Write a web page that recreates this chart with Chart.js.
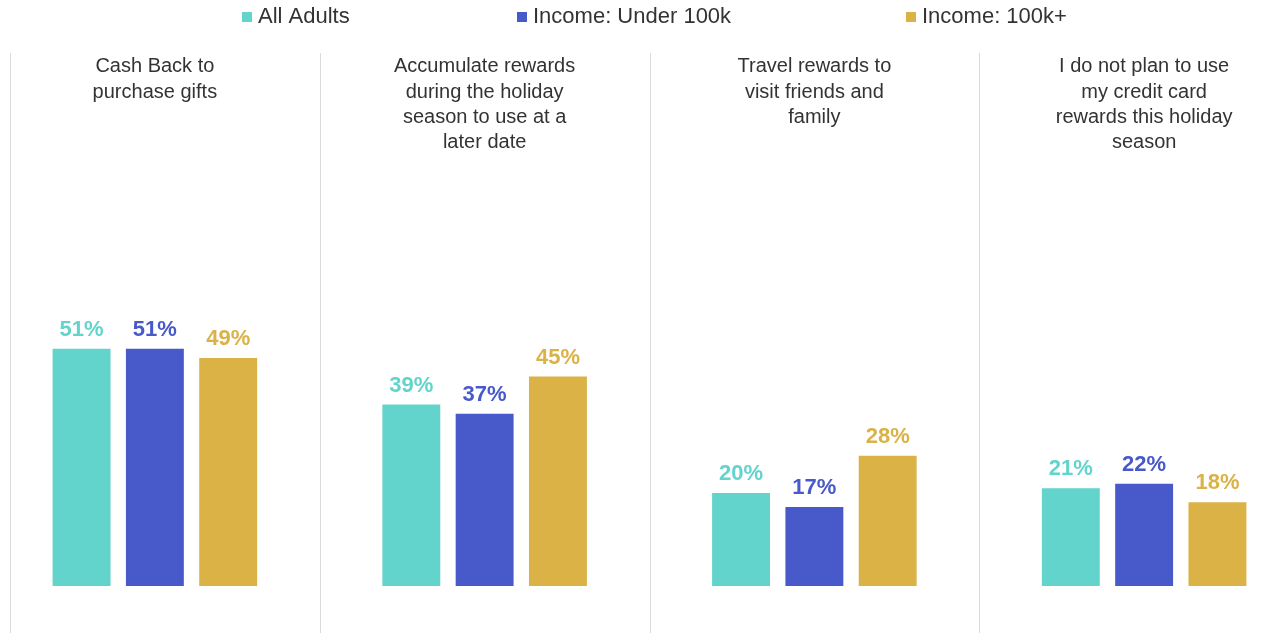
<!DOCTYPE html>
<html>
<head>
<meta charset="utf-8">
<title>Holiday rewards</title>
<script src="https://cdn.jsdelivr.net/npm/chart.js@4.4.0/dist/chart.umd.min.js"></script>
<style>
  html, body { margin: 0; padding: 0; background: #fff; overflow: hidden; }
  /* the first and last groups run a little past the window edges */
  #wrap { position: absolute; left: -10px; top: 0; width: 1319px; height: 633px; }
</style>
</head>
<body>
<div id="wrap"><canvas id="grafica"></canvas></div>
<script>
const categorias = [
  ['Cash Back to', 'purchase gifts'],
  ['Accumulate rewards', 'during the holiday', 'season to use at a', 'later date'],
  ['Travel rewards to', 'visit friends and', 'family'],
  ['I do not plan to use', 'my credit card', 'rewards this holiday', 'season']
];
const series = ['All Adults', 'Income: Under 100k', 'Income: 100k+'];
const todos = [51, 39, 20, 21];
const menos100k = [51, 37, 17, 22];
const mas100k = [49, 45, 28, 18];
const colores = ['#62D4CB', '#4859C9', '#DBB245'];

// lineas grises entre los grupos
const separadores = {
  id: 'separadores',
  beforeDraw(chart) {
    const {ctx, chartArea, scales: {x}} = chart;
    const xs = [chartArea.left + 20];
    for (let i = 1; i < categorias.length; i++) {
      xs.push((x.getPixelForValue(i - 1) + x.getPixelForValue(i)) / 2);
    }
    ctx.save();
    ctx.strokeStyle = '#DADADA';
    ctx.lineWidth = 1;
    xs.forEach(px => {
      const p = Math.round(px) + 0.5;
      ctx.beginPath();
      ctx.moveTo(p, 53);
      ctx.lineTo(p, chart.height);
      ctx.stroke();
    });
    ctx.restore();
  }
};

// porcentajes encima de cada barra
const etiquetas = {
  id: 'etiquetas',
  afterDatasetsDraw(chart) {
    const ctx = chart.ctx;
    ctx.save();
    ctx.font = 'bold 22px "Liberation Sans", Arial, sans-serif';
    ctx.textAlign = 'center';
    ctx.textBaseline = 'alphabetic';
    chart.data.datasets.forEach((ds, i) => {
      chart.getDatasetMeta(i).data.forEach((bar, j) => {
        ctx.fillStyle = ds.backgroundColor;
        ctx.fillText(ds.data[j] + '%', bar.x, bar.y - 13);
      });
    });
    ctx.restore();
  }
};

// leyenda dibujada a mano (las separaciones son muy anchas)
const inicioLeyenda = [252, 527, 916];
const leyenda = {
  id: 'leyenda',
  afterDraw(chart) {
    const ctx = chart.ctx;
    ctx.save();
    ctx.font = '22px "Liberation Sans", Arial, sans-serif';
    ctx.textBaseline = 'alphabetic';
    ctx.textAlign = 'left';
    chart.data.datasets.forEach((ds, i) => {
      const x0 = inicioLeyenda[i];
      ctx.fillStyle = ds.backgroundColor;
      ctx.fillRect(x0, 12, 10, 10);
      ctx.fillStyle = '#333';
      ctx.fillText(ds.label, x0 + 16, 23);
    });
    ctx.restore();
  }
};

const ctx = document.getElementById('grafica').getContext('2d');
new Chart(ctx, {
  type: 'bar',
  data: {
    labels: categorias,
    datasets: [
      { label: series[0], data: todos, backgroundColor: colores[0] },
      { label: series[1], data: menos100k, backgroundColor: colores[1] },
      { label: series[2], data: mas100k, backgroundColor: colores[2] }
    ].map(d => Object.assign(d, { categoryPercentage: 0.667, barPercentage: 0.79 }))
  },
  options: {
    responsive: true,
    maintainAspectRatio: false,
    animation: false,
    layout: { padding: { top: 41, bottom: 47, left: 0, right: 0 } },
    plugins: {
      legend: { display: false },
      tooltip: { callbacks: { label: item => item.dataset.label + ': ' + item.raw + '%' } }
    },
    scales: {
      x: {
        position: 'top',
        grid: { display: false, drawTicks: false },
        border: { display: false },
        ticks: {
          autoSkip: false,
          maxRotation: 0,
          crossAlign: 'far',
          padding: 13,
          color: '#333',
          font: { family: '"Liberation Sans", Arial, sans-serif', size: 20, lineHeight: 1.27 }
        }
      },
      y: { display: false, min: 0, max: 89.7 }
    }
  },
  plugins: [separadores, etiquetas, leyenda]
});
</script>
</body>
</html>
